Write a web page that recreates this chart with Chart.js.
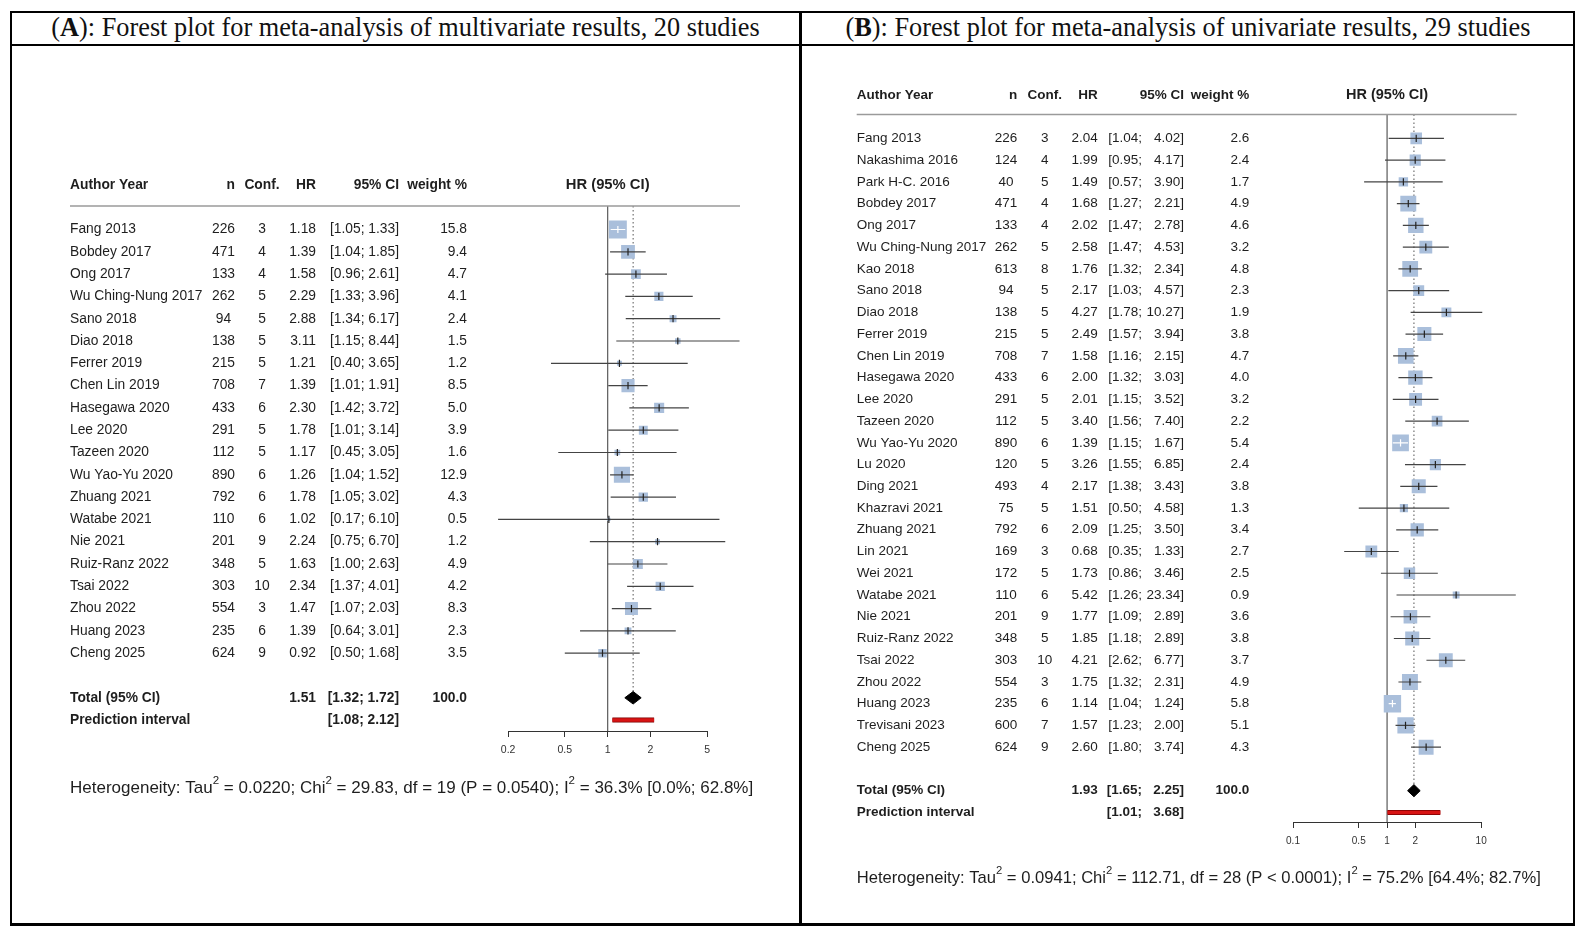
<!DOCTYPE html>
<html>
<head>
<meta charset="utf-8">
<script src="https://cdn.jsdelivr.net/npm/chart.js@4.4.1/dist/chart.umd.min.js"></script>
<style>
  body { margin: 0; background: #fff; width: 1583px; height: 935px; overflow: hidden; position: relative; }
  .frame { position: absolute; left: 10px; top: 11px; width: 1561px; height: 910px; border: 2px solid #000; border-bottom-width: 3px; }
  .hline { position: absolute; left: 10px; top: 44px; width: 1565px; height: 2px; background: #000; }
  .vline { position: absolute; left: 799px; top: 11px; width: 3px; height: 915px; background: #000; }
  .title { position: absolute; top: 12px; height: 31px; line-height: 31px; text-align: center;
           font-family: "Liberation Serif", "Times New Roman", serif; font-size: 26.3px; color: #111; white-space: nowrap; }
  canvas { position: absolute; left: 0; top: 0; }
</style>
</head>
<body>
<div class="frame"></div>
<div class="hline"></div>
<div class="vline"></div>
<div class="title" style="left:12px;width:787px;">(<b>A</b>): Forest plot for meta-analysis of multivariate results, 20 studies</div>
<div class="title" style="left:802px;width:772px;">(<b>B</b>): Forest plot for meta-analysis of univariate results, 29 studies</div>
<canvas id="forestA" width="1583" height="935"></canvas>
<canvas id="forestB" width="1583" height="935"></canvas>

<script>
// ---- panel A: multivariate, 20 studies ----
const aAuthors = ['Fang 2013', 'Bobdey 2017', 'Ong 2017', 'Wu Ching-Nung 2017', 'Sano 2018', 'Diao 2018',
  'Ferrer 2019', 'Chen Lin 2019', 'Hasegawa 2020', 'Lee 2020', 'Tazeen 2020', 'Wu Yao-Yu 2020',
  'Zhuang 2021', 'Watabe 2021', 'Nie 2021', 'Ruiz-Ranz 2022', 'Tsai 2022', 'Zhou 2022', 'Huang 2023', 'Cheng 2025'];
const aN = [226, 471, 133, 262, 94, 138, 215, 708, 433, 291, 112, 890, 792, 110, 201, 348, 303, 554, 235, 624];
const aConf = [3, 4, 4, 5, 5, 5, 5, 7, 6, 5, 5, 6, 6, 6, 9, 5, 10, 3, 6, 9];
const aHR = [1.18, 1.39, 1.58, 2.29, 2.88, 3.11, 1.21, 1.39, 2.30, 1.78, 1.17, 1.26, 1.78, 1.02, 2.24, 1.63, 2.34, 1.47, 1.39, 0.92];
const aLo = [1.05, 1.04, 0.96, 1.33, 1.34, 1.15, 0.40, 1.01, 1.42, 1.01, 0.45, 1.04, 1.05, 0.17, 0.75, 1.00, 1.37, 1.07, 0.64, 0.50];
const aHi = [1.33, 1.85, 2.61, 3.96, 6.17, 8.44, 3.65, 1.91, 3.72, 3.14, 3.05, 1.52, 3.02, 6.10, 6.70, 2.63, 4.01, 2.03, 3.01, 1.68];
const aWeight = [15.8, 9.4, 4.7, 4.1, 2.4, 1.5, 1.2, 8.5, 5.0, 3.9, 1.6, 12.9, 4.3, 0.5, 1.2, 4.9, 4.2, 8.3, 2.3, 3.5];
const aTotal = [1.51, 1.32, 1.72];
const aPred = [1.08, 2.12];
const aTicks = [0.2, 0.5, 1, 2, 5];
const aTickLabels = ['0.2', '0.5', '1', '2', '5'];
const aHet = ['Heterogeneity: Tau', '2', ' = 0.0220; Chi', '2', ' = 29.83, df = 19 (P = 0.0540); I', '2', ' = 36.3% [0.0%; 62.8%]'];

// ---- panel B: univariate, 29 studies ----
const bAuthors = ['Fang 2013', 'Nakashima 2016', 'Park H-C. 2016', 'Bobdey 2017', 'Ong 2017', 'Wu Ching-Nung 2017',
  'Kao 2018', 'Sano 2018', 'Diao 2018', 'Ferrer 2019', 'Chen Lin 2019', 'Hasegawa 2020', 'Lee 2020', 'Tazeen 2020',
  'Wu Yao-Yu 2020', 'Lu 2020', 'Ding 2021', 'Khazravi 2021', 'Zhuang 2021', 'Lin 2021', 'Wei 2021', 'Watabe 2021',
  'Nie 2021', 'Ruiz-Ranz 2022', 'Tsai 2022', 'Zhou 2022', 'Huang 2023', 'Trevisani 2023', 'Cheng 2025'];
const bN = [226, 124, 40, 471, 133, 262, 613, 94, 138, 215, 708, 433, 291, 112, 890, 120, 493, 75, 792, 169, 172, 110, 201, 348, 303, 554, 235, 600, 624];
const bConf = [3, 4, 5, 4, 4, 5, 8, 5, 5, 5, 7, 6, 5, 5, 6, 5, 4, 5, 6, 3, 5, 6, 9, 5, 10, 3, 6, 7, 9];
const bHR = [2.04, 1.99, 1.49, 1.68, 2.02, 2.58, 1.76, 2.17, 4.27, 2.49, 1.58, 2.00, 2.01, 3.40, 1.39, 3.26, 2.17, 1.51, 2.09, 0.68, 1.73, 5.42, 1.77, 1.85, 4.21, 1.75, 1.14, 1.57, 2.60];
const bLo = [1.04, 0.95, 0.57, 1.27, 1.47, 1.47, 1.32, 1.03, 1.78, 1.57, 1.16, 1.32, 1.15, 1.56, 1.15, 1.55, 1.38, 0.50, 1.25, 0.35, 0.86, 1.26, 1.09, 1.18, 2.62, 1.32, 1.04, 1.23, 1.80];
const bHi = [4.02, 4.17, 3.90, 2.21, 2.78, 4.53, 2.34, 4.57, 10.27, 3.94, 2.15, 3.03, 3.52, 7.40, 1.67, 6.85, 3.43, 4.58, 3.50, 1.33, 3.46, 23.34, 2.89, 2.89, 6.77, 2.31, 1.24, 2.00, 3.74];
const bWeight = [2.6, 2.4, 1.7, 4.9, 4.6, 3.2, 4.8, 2.3, 1.9, 3.8, 4.7, 4.0, 3.2, 2.2, 5.4, 2.4, 3.8, 1.3, 3.4, 2.7, 2.5, 0.9, 3.6, 3.8, 3.7, 4.9, 5.8, 5.1, 4.3];
const bTotal = [1.93, 1.65, 2.25];
const bPred = [1.01, 3.68];
const bTicks = [0.1, 0.5, 1, 2, 10];
const bTickLabels = ['0.1', '0.5', '1', '2', '10'];
const bHet = ['Heterogeneity: Tau', '2', ' = 0.0941; Chi', '2', ' = 112.71, df = 28 (P < 0.0001); I', '2', ' = 75.2% [64.4%; 82.7%]'];

const SQUARE = '#aabfdb';
const CI_COLOR = '#444';
const TEXT = '#1e1e1e';
const FONT = '"Liberation Sans", Arial, sans-serif';

function tablePlugin(p) {
  return {
    id: 'forestTable',
    afterDraw(chart) {
      const ctx = chart.ctx, xs = chart.scales.x, ys = chart.scales.y, area = chart.chartArea, c = p.col;
      const last = p.authors.length - 1;
      ctx.save();

      ctx.strokeStyle = '#9a9a9a';
      ctx.lineWidth = 1.5;
      ctx.beginPath();
      ctx.moveTo(c.author, area.top);
      ctx.lineTo(p.ruleEnd, area.top);
      ctx.stroke();

      const by = Math.round(area.bottom) + 0.5;
      ctx.strokeStyle = '#333';
      ctx.lineWidth = 1;
      ctx.beginPath();
      ctx.moveTo(xs.getPixelForValue(p.ticks[0]), by);
      ctx.lineTo(xs.getPixelForValue(p.ticks[p.ticks.length - 1]), by);
      ctx.stroke();

      ctx.fillStyle = TEXT;
      ctx.textBaseline = 'middle';
      const text = (s, x, y, align, bold, size) => {
        ctx.font = (bold ? 'bold ' : '') + (size || p.fontSize) + 'px ' + FONT;
        ctx.textAlign = align;
        ctx.fillText(s, x, y);
      };
      const ci = (lo, hi, y, bold) => {
        if (p.splitCI) {
          text('[' + lo.toFixed(2) + ';', c.ciMid, y, 'right', bold);
          text(hi.toFixed(2) + ']', c.ci, y, 'right', bold);
        } else {
          text('[' + lo.toFixed(2) + '; ' + hi.toFixed(2) + ']', c.ci, y, 'right', bold);
        }
      };

      const yh = ys.getPixelForValue(-2);
      text('Author Year', c.author, yh, 'left', true);
      text('n', c.nRight, yh, 'right', true);
      text('Conf.', c.conf, yh, 'center', true);
      text('HR', c.hr, yh, 'right', true);
      text('95% CI', c.ci, yh, 'right', true);
      text('weight %', c.w, yh, 'right', true);
      text('HR (95% CI)', xs.getPixelForValue(1), yh, 'center', true, p.plotHeadSize);

      p.authors.forEach((a, i) => {
        const y = ys.getPixelForValue(i);
        text(a, c.author, y, 'left');
        text(String(p.n[i]), c.n, y, 'center');
        text(String(p.conf[i]), c.conf, y, 'center');
        text(p.hr[i].toFixed(2), c.hr, y, 'right');
        ci(p.lo[i], p.hi[i], y);
        text(p.weight[i].toFixed(1), c.w, y, 'right');
      });

      const yt = ys.getPixelForValue(last + 2);
      text('Total (95% CI)', c.author, yt, 'left', true);
      text(p.total[0].toFixed(2), c.hr, yt, 'right', true);
      ci(p.total[1], p.total[2], yt, true);
      text('100.0', c.w, yt, 'right', true);

      const yp = ys.getPixelForValue(last + 3);
      text('Prediction interval', c.author, yp, 'left', true);
      ci(p.pred[0], p.pred[1], yp, true);

      // heterogeneity line with superscripts
      let hx = c.author;
      p.het.forEach((s, k) => {
        const sup = k % 2 === 1;
        const size = sup ? p.hetSize * 0.68 : p.hetSize;
        ctx.font = size + 'px ' + FONT;
        ctx.textAlign = 'left';
        ctx.fillText(s, hx, p.hetY - (sup ? p.hetSize * 0.42 : 0));
        hx += ctx.measureText(s).width;
      });
      ctx.restore();
    }
  };
}

function buildForest(id, p) {
  const last = p.authors.length - 1;
  const totRow = last + 2, predRow = last + 3;
  const side = i => p.sizeK * Math.sqrt(p.weight[i]);
  const narrow = (chart, i) => {
    const xs = chart.scales.x;
    return xs.getPixelForValue(p.hi[i]) - xs.getPixelForValue(p.lo[i]) < side(i);
  };

  const ciData = [];
  p.lo.forEach((lo, i) => {
    ciData.push({ x: lo, y: i }, { x: p.hi[i], y: i }, { x: p.hi[i], y: null });
  });
  const hrData = p.hr.map((v, i) => ({ x: v, y: i }));
  const dh = p.diamondHalf;

  const lineBase = { type: 'line', pointRadius: 0, fill: false, tension: 0 };

  new Chart(document.getElementById(id), {
    type: 'scatter',
    data: {
      datasets: [
        Object.assign({}, lineBase, { data: [{ x: 1, y: p.yMin }, { x: 1, y: p.yMax }], borderColor: '#666', borderWidth: 1.3, order: 10 }),
        Object.assign({}, lineBase, { data: [{ x: p.total[0], y: p.yMin }, { x: p.total[0], y: totRow - dh }],
          borderColor: '#555', borderWidth: 1, borderDash: [1.5, 2.5], order: 9 }),
        { type: 'scatter', data: hrData, pointStyle: 'rect', pointRadius: ctx => side(ctx.dataIndex) / Math.SQRT2,
          pointBackgroundColor: SQUARE, pointBorderWidth: 0, pointBorderColor: SQUARE, order: 8 },
        Object.assign({}, lineBase, { data: ciData, borderColor: CI_COLOR, borderWidth: 1.2, spanGaps: false, order: 7,
          segment: { borderColor: ctx => (ctx.p1.x - ctx.p0.x) < side(Math.floor(ctx.p0DataIndex / 3)) ? '#fff' : CI_COLOR } }),
        { type: 'scatter', data: hrData, pointStyle: 'line', pointRotation: 90, pointRadius: 3.6, pointBorderWidth: 1.2,
          pointBorderColor: ctx => narrow(ctx.chart, ctx.dataIndex) ? '#fff' : '#222', order: 6 },
        Object.assign({}, lineBase, { data: [{ x: p.total[1], y: totRow }, { x: p.total[0], y: totRow - dh }, { x: p.total[2], y: totRow }],
          borderColor: '#000', borderWidth: 1, order: 5 }),
        Object.assign({}, lineBase, { data: [{ x: p.total[1], y: totRow }, { x: p.total[0], y: totRow + dh }, { x: p.total[2], y: totRow }],
          borderColor: '#000', borderWidth: 1, fill: '-1', backgroundColor: '#000', order: 5 }),
        Object.assign({}, lineBase, { data: [{ x: p.pred[0], y: predRow }, { x: p.pred[1], y: predRow }], borderColor: '#7a0000', borderWidth: 5, order: 4 }),
        Object.assign({}, lineBase, { data: [{ x: p.pred[0], y: predRow }, { x: p.pred[1], y: predRow }], borderColor: '#d81414', borderWidth: 3.4, order: 3 })
      ]
    },
    options: {
      responsive: false,
      animation: false,
      events: [],
      layout: { padding: { left: p.plotLeft, right: 1583 - p.plotRight, top: p.plotTop, bottom: 935 - p.plotBottom - 30 } },
      plugins: { legend: { display: false }, tooltip: { enabled: false } },
      scales: {
        x: {
          type: 'logarithmic', min: p.xMin, max: p.xMax,
          border: { display: false },
          grid: { drawOnChartArea: false, drawTicks: true, tickLength: 6, color: '#333', lineWidth: 1 },
          ticks: { autoSkip: false, maxRotation: 0, padding: 7, color: '#333', font: { family: FONT, size: p.tickSize },
                   callback: (v, i) => p.tickLabels[i] },
          afterBuildTicks: s => { s.ticks = p.ticks.map(v => ({ value: v })); },
          afterFit: s => { s.height = 30; }
        },
        y: { type: 'linear', min: p.yMin, max: p.yMax, reverse: true, display: false }
      }
    },
    plugins: [tablePlugin(p)]
  });
}

buildForest('forestA', {
  authors: aAuthors, n: aN, conf: aConf, hr: aHR, lo: aLo, hi: aHi, weight: aWeight,
  total: aTotal, pred: aPred, ticks: aTicks, tickLabels: aTickLabels, het: aHet,
  xMin: 0.13, xMax: 9, plotLeft: 481.5, plotRight: 743.5,
  yMin: -1.054, yMax: 22.49, plotTop: 206, plotBottom: 731,
  col: { author: 70, n: 223.5, nRight: 235, conf: 262, hr: 316, ci: 399, w: 467 },
  ruleEnd: 740, splitCI: false, sizeK: 4.5, diamondHalf: 0.28,
  fontSize: 13.8, plotHeadSize: 14.8, tickSize: 10.5, hetSize: 17, hetY: 788
});

buildForest('forestB', {
  authors: bAuthors, n: bN, conf: bConf, hr: bHR, lo: bLo, hi: bHi, weight: bWeight,
  total: bTotal, pred: bPred, ticks: bTicks, tickLabels: bTickLabels, het: bHet,
  xMin: 0.09, xMax: 25, plotLeft: 1288.7, plotRight: 1518.6,
  yMin: -1.10, yMax: 31.44, plotTop: 114.5, plotBottom: 822,
  col: { author: 856.7, n: 1006, nRight: 1017.3, conf: 1044.7, hr: 1097.7, ciMid: 1142, ci: 1184, w: 1249.3 },
  ruleEnd: 1516.7, splitCI: true, sizeK: 7.2, diamondHalf: 0.28,
  fontSize: 13.5, plotHeadSize: 14.5, tickSize: 10, hetSize: 16.6, hetY: 878
});
</script>
</body>
</html>
